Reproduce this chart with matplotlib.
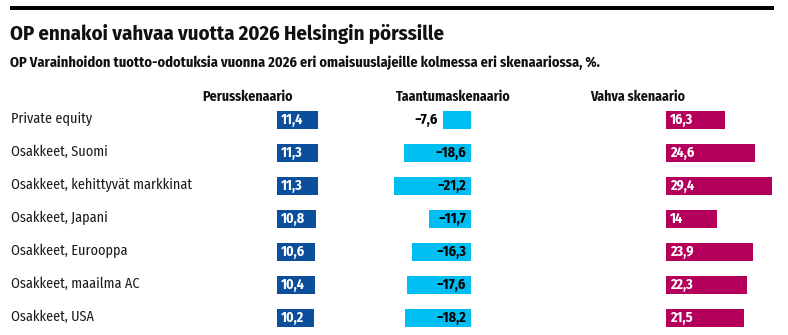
import matplotlib
matplotlib.use("Agg")
import matplotlib.pyplot as plt
from matplotlib.lines import Line2D
import matplotlib.transforms as mtransforms

FONT = ["Fira Sans Condensed", "DejaVu Sans"]
plt.rcParams["font.family"] = FONT

title = "OP ennakoi vahvaa vuotta 2026 Helsingin pörssille"
subtitle = "OP Varainhoidon tuotto-odotuksia vuonna 2026 eri omaisuuslajeille kolmessa eri skenaariossa, %."
categories = ["Private equity", "Osakkeet, Suomi", "Osakkeet, kehittyvät markkinat",
              "Osakkeet, Japani", "Osakkeet, Eurooppa", "Osakkeet, maailma AC", "Osakkeet, USA"]
scenarios = ["Perusskenaario", "Taantumaskenaario", "Vahva skenaario"]
perus = [11.4, 11.3, 11.3, 10.8, 10.6, 10.4, 10.2]
taantuma = [-7.6, -18.6, -21.2, -11.7, -16.3, -17.6, -18.2]
vahva = [16.3, 24.6, 29.4, 14, 23.9, 22.3, 21.5]

C_PERUS = "#0b4f9c"
C_TAANTUMA = "#00bef2"
C_VAHVA = "#b4005a"

W, H = 788, 335
fig = plt.figure(figsize=(W / 100, H / 100), dpi=100)

PX_PER_UNIT = 3.62
ROW0, ROWSTEP = 120.0, 32.95
n = len(categories)

def add_axes_px(x0, xlim):
    width = (xlim[1] - xlim[0]) * PX_PER_UNIT
    top = ROW0 - ROWSTEP / 2
    height = ROWSTEP * n
    ax = fig.add_axes([x0 / W, 1 - (top + height) / H, width / W, height / H])
    ax.set_xlim(*xlim)
    ax.set_ylim(n - 0.5, -0.5)
    ax.axis("off")
    return ax

def fmt(v):
    s = f"{v:g}".replace(".", ",")
    return s.replace("-", "\u2212")

ypos = list(range(n))
BAR_H = 0.55
VAL_FS = 10.2

# Perusskenaario
ax1 = add_axes_px(277, (0, 30))
ax1.barh(ypos, perus, height=BAR_H, color=C_PERUS)
for y, v in zip(ypos, perus):
    ax1.annotate(fmt(v), (0, y), xytext=(4, 0), textcoords="offset pixels",
                 ha="left", va="center", color="white", fontsize=VAL_FS, fontweight="bold")

# Taantumaskenaario
ax2 = add_axes_px(471 - 22 * PX_PER_UNIT, (-22, 0))
ax2.barh(ypos, taantuma, height=BAR_H, color=C_TAANTUMA)
for y, v in zip(ypos, taantuma):
    if abs(v) < 10:
        ax2.annotate(fmt(v), (v, y), xytext=(-6, 0), textcoords="offset pixels",
                     ha="right", va="center", color="black", fontsize=VAL_FS, fontweight="bold")
    else:
        ax2.annotate(fmt(v), (0, y), xytext=(-5, 0), textcoords="offset pixels",
                     ha="right", va="center", color="black", fontsize=VAL_FS, fontweight="bold")

# Vahva skenaario
ax3 = add_axes_px(666, (0, 30))
ax3.barh(ypos, vahva, height=BAR_H, color=C_VAHVA)
for y, v in zip(ypos, vahva):
    ax3.annotate(fmt(v), (0, y), xytext=(4, 0), textcoords="offset pixels",
                 ha="left", va="center", color="white", fontsize=VAL_FS, fontweight="bold")

# Category labels
trans = mtransforms.blended_transform_factory(fig.transFigure, ax1.transData)
for y, c in zip(ypos, categories):
    fig.text(11 / W, y - 0.04, c, transform=trans, ha="left", va="center",
             fontsize=10.2, color="#1a1a1a")

# Column headers
for xc, s in zip([247, 453, 638], scenarios):
    fig.text(xc / W, 1 - 97 / H, s, ha="center", va="center",
             fontsize=10, fontweight="bold", color="#111111")

# Title, subtitle, top rule
fig.add_artist(Line2D([10 / W, 774 / W], [1 - 8 / H, 1 - 8 / H], color="black",
                      linewidth=4 * 0.72, solid_capstyle="butt"))
fig.text(10 / W, 1 - 34 / H, title, ha="left", va="center", fontsize=14.9,
         fontweight="bold", color="#111111")
fig.text(10 / W, 1 - 63 / H, subtitle, ha="left", va="center", fontsize=10.4,
         fontweight="bold", color="#111111")

fig.savefig("out.png", dpi=100, facecolor="white")
